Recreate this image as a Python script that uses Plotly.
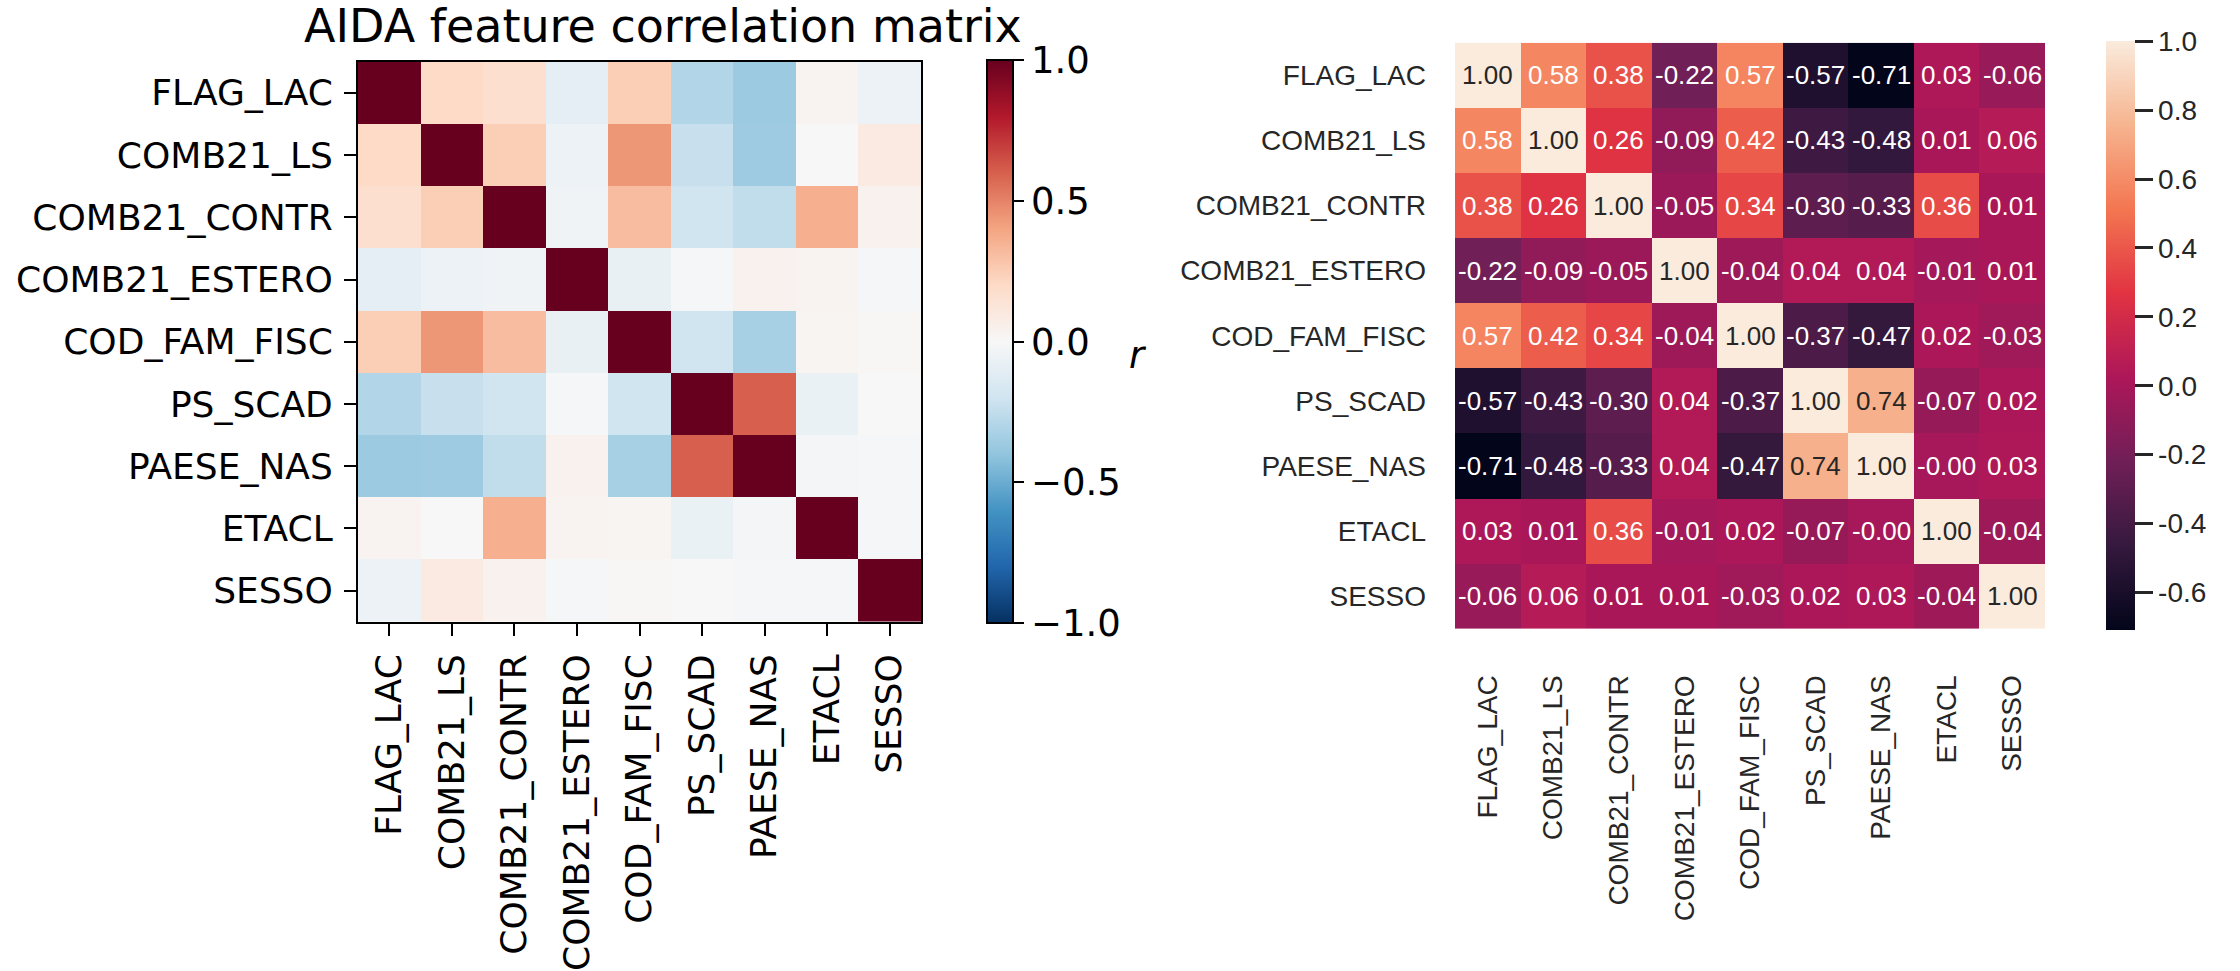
import plotly.graph_objects as go

W, H = 2240, 971

features = ["FLAG_LAC", "COMB21_LS", "COMB21_CONTR", "COMB21_ESTERO",
            "COD_FAM_FISC", "PS_SCAD", "PAESE_NAS", "ETACL", "SESSO"]

# Left panel: correlation matrix drawn with a diverging map
left_corr = [
    [1.00, 0.20, 0.17, -0.10, 0.25, -0.30, -0.37, 0.03, -0.06],
    [0.20, 1.00, 0.25, -0.06, 0.44, -0.23, -0.36, 0.00, 0.09],
    [0.17, 0.25, 1.00, -0.04, 0.31, -0.20, -0.25, 0.36, 0.04],
    [-0.10, -0.06, -0.04, 1.00, -0.08, -0.01, 0.04, 0.03, -0.01],
    [0.25, 0.44, 0.31, -0.08, 1.00, -0.20, -0.33, 0.02, 0.01],
    [-0.30, -0.23, -0.20, -0.01, -0.20, 1.00, 0.60, -0.07, 0.00],
    [-0.37, -0.36, -0.25, 0.04, -0.33, 0.60, 1.00, -0.02, -0.01],
    [0.03, 0.00, 0.36, 0.03, 0.02, -0.07, -0.02, 1.00, -0.01],
    [-0.06, 0.09, 0.04, -0.01, 0.01, 0.00, -0.01, -0.01, 1.00],
]

# Right panel: annotated correlation matrix
right_corr = [
    [1.00, 0.58, 0.38, -0.22, 0.57, -0.57, -0.71, 0.03, -0.06],
    [0.58, 1.00, 0.26, -0.09, 0.42, -0.43, -0.48, 0.01, 0.06],
    [0.38, 0.26, 1.00, -0.05, 0.34, -0.30, -0.33, 0.36, 0.01],
    [-0.22, -0.09, -0.05, 1.00, -0.04, 0.04, 0.04, -0.01, 0.01],
    [0.57, 0.42, 0.34, -0.04, 1.00, -0.37, -0.47, 0.02, -0.03],
    [-0.57, -0.43, -0.30, 0.04, -0.37, 1.00, 0.74, -0.07, 0.02],
    [-0.71, -0.48, -0.33, 0.04, -0.47, 0.74, 1.00, -0.004, 0.03],
    [0.03, 0.01, 0.36, -0.01, 0.02, -0.07, -0.004, 1.00, -0.04],
    [-0.06, 0.06, 0.01, 0.01, -0.03, 0.02, 0.03, -0.04, 1.00],
]

left_cbar_ticks = [-1.0, -0.5, 0.0, 0.5, 1.0]
right_cbar_ticks = [-0.6, -0.4, -0.2, 0.0, 0.2, 0.4, 0.6, 0.8, 1.0]

# ColorBrewer RdBu, reversed (blue = -1, red = +1)
rdbu_r = ["#053061", "#2166ac", "#4393c3", "#92c5de", "#d1e5f0", "#f7f7f7",
          "#fddbc7", "#f4a582", "#d6604d", "#b2182b", "#67001f"]
rdbu_scale = [[i / (len(rdbu_r) - 1), c] for i, c in enumerate(rdbu_r)]

# "rocket" sequential map
rocket_stops = [(0.0, "#03051a"), (1 / 7, "#35193e"), (2 / 7, "#701f57"),
                (3 / 7, "#ad1759"), (4 / 7, "#e13342"), (5 / 7, "#f37651"),
                (6 / 7, "#f6b48f"), (1.0, "#faebdd")]
rocket_scale = [[p, c] for p, c in rocket_stops]


def hex_rgb(h):
    h = h.lstrip("#")
    return tuple(int(h[i:i + 2], 16) / 255 for i in (0, 2, 4))


def sample(stops, t):
    t = min(max(t, 0.0), 1.0)
    for (p0, c0), (p1, c1) in zip(stops[:-1], stops[1:]):
        if t <= p1:
            f = 0 if p1 == p0 else (t - p0) / (p1 - p0)
            a, b = hex_rgb(c0), hex_rgb(c1)
            return tuple(a[k] + f * (b[k] - a[k]) for k in range(3))
    return hex_rgb(stops[-1][1])


def rel_lum(rgb):
    def lin(v):
        return v / 12.92 if v <= 0.03928 else ((v + 0.055) / 1.055) ** 2.4
    r, g, b = (lin(v) for v in rgb)
    return 0.2126 * r + 0.7152 * g + 0.0722 * b


def px_x(v):
    return v / W


def px_y(v):
    return 1 - v / H


# Panel geometry (pixels)
L_X0, L_X1, L_Y0, L_Y1 = 358, 921, 62, 625
R_X0, R_X1, R_Y0, R_Y1 = 1455, 2045, 43, 632

fig = go.Figure()

fig.add_trace(go.Heatmap(
    z=left_corr, x=features, y=features,
    colorscale=rdbu_scale, zmin=-1, zmax=1,
    xaxis="x", yaxis="y", hoverongaps=False,
    colorbar=dict(
        x=px_x(987), xanchor="left", xref="paper",
        y=px_y((L_Y0 + L_Y1) / 2), yanchor="middle",
        thickness=26, lenmode="pixels", len=L_Y1 - L_Y0,
        outlinewidth=2, outlinecolor="black",
        tickmode="array", tickvals=left_cbar_ticks,
        ticktext=[f"{v:.1f}".replace("-", "\u2212") for v in left_cbar_ticks],
        ticks="outside", ticklen=10, tickwidth=2, tickcolor="black",
        tickfont=dict(family="DejaVu Sans", size=37, color="black"),
        xpad=0, ypad=0,
    ),
))

zmin_r = min(min(r) for r in right_corr)
zmax_r = max(max(r) for r in right_corr)

fig.add_trace(go.Heatmap(
    z=right_corr, x=features, y=features,
    colorscale=rocket_scale, zmin=zmin_r, zmax=zmax_r,
    xaxis="x2", yaxis="y2",
    colorbar=dict(
        x=px_x(2106), xanchor="left", xref="paper",
        y=px_y((R_Y0 + R_Y1) / 2), yanchor="middle",
        thickness=29, lenmode="pixels", len=R_Y1 - R_Y0,
        outlinewidth=0,
        tickmode="array", tickvals=right_cbar_ticks,
        ticktext=[f"{v:.1f}" for v in right_cbar_ticks],
        ticks="outside", ticklen=18, tickwidth=3, tickcolor="#262626",
        tickfont=dict(family="Liberation Sans", size=28, color="#262626"),
        xpad=0, ypad=0,
    ),
))

# Cell annotations for the right panel
annots = []
for i, row_name in enumerate(features):
    for j, col_name in enumerate(features):
        v = right_corr[i][j]
        rgb = sample(rocket_stops, (v - zmin_r) / (zmax_r - zmin_r))
        color = "#262626" if rel_lum(rgb) > 0.408 else "white"
        annots.append(dict(
            x=col_name, y=row_name, xref="x2", yref="y2",
            text=f"{v:.2f}", showarrow=False,
            font=dict(family="Liberation Sans", size=26, color=color),
        ))

annots.append(dict(
    x=px_x(663), y=px_y(26), xref="paper", yref="paper",
    text="AIDA feature correlation matrix", showarrow=False,
    xanchor="center", yanchor="middle",
    font=dict(family="DejaVu Sans", size=46, color="black"),
))
annots.append(dict(
    x=px_x(1138), y=px_y(357), xref="paper", yref="paper",
    text="<i>r</i>", showarrow=False, xanchor="center", yanchor="middle",
    font=dict(family="DejaVu Sans", size=37, color="black"),
))

left_tick_font = dict(family="DejaVu Sans", size=36, color="black")
right_tick_font = dict(family="Liberation Sans", size=28, color="#262626")

fig.update_layout(
    width=W, height=H, margin=dict(l=0, r=0, t=0, b=0),
    paper_bgcolor="white", plot_bgcolor="white",
    showlegend=False, annotations=annots,
    xaxis=dict(
        domain=[px_x(L_X0), px_x(L_X1)], anchor="y",
        tickangle=-90, ticks="outside", ticklen=12, tickwidth=2,
        tickcolor="black", tickfont=left_tick_font,
        showline=True, linewidth=2, linecolor="black", mirror=True,
        showgrid=False, zeroline=False, ticklabelstandoff=4,
    ),
    yaxis=dict(
        domain=[px_y(L_Y1), px_y(L_Y0)], anchor="x",
        autorange="reversed", ticks="outside", ticklen=12, tickwidth=2,
        tickcolor="black", tickfont=left_tick_font,
        showline=True, linewidth=2, linecolor="black", mirror=True,
        showgrid=False, zeroline=False, ticklabelstandoff=4,
    ),
    xaxis2=dict(
        domain=[px_x(R_X0), px_x(R_X1)], anchor="y2",
        tickangle=-90, ticks="", tickfont=right_tick_font,
        showline=False, showgrid=False, zeroline=False,
        ticklabelstandoff=40,
    ),
    yaxis2=dict(
        domain=[px_y(R_Y1), px_y(R_Y0)], anchor="x2",
        autorange="reversed", ticks="", tickfont=right_tick_font,
        showline=False, showgrid=False, zeroline=False,
        ticklabelstandoff=28,
    ),
)

fig.write_html("out.html")
